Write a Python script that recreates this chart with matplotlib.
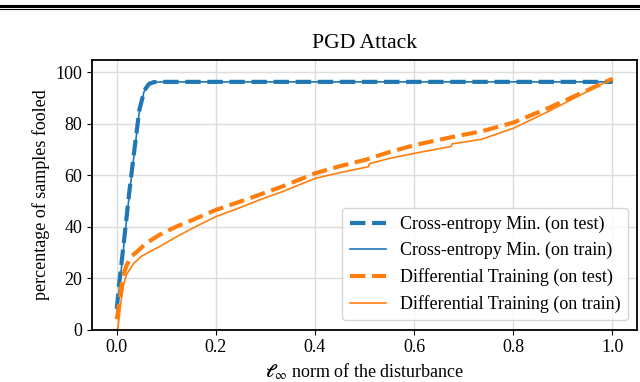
#Plots percentage of samples fooled vs l_inf norm of the PGD disturbance

import numpy as np
import matplotlib
matplotlib.use('Agg')
import matplotlib.pyplot as plt
from matplotlib.lines import Line2D

plt.rcParams['font.family'] = ['Liberation Serif', 'DejaVu Serif']
plt.rcParams['mathtext.fontset'] = 'stix'
plt.rcParams['font.size'] = 13

#Curves

ce_test_x = [0, 0.005, 0.0155, 0.0256, 0.0356, 0.0457, 0.0557, 0.065, 0.075, 0.09, 1.0]
ce_test_y = [8, 18, 36, 54, 70, 85.5, 93, 95.5, 96.2, 96.3, 96.3]

ce_train_x = [0, 0.005, 0.015, 0.025, 0.035, 0.045, 0.055, 0.065, 0.075, 0.09, 1.0]
ce_train_y = [6, 16, 34, 52, 68, 84, 92.5, 95.3, 96.1, 96.3, 96.3]

dt_test_x = [0, 0.002, 0.006, 0.012, 0.02, 0.029, 0.045, 0.059, 0.086, 0.12, 0.153,
             0.2, 0.25, 0.288, 0.334, 0.401, 0.45, 0.502, 0.55, 0.603, 0.683, 0.737,
             0.801, 0.871, 0.938, 1.0]
dt_test_y = [4, 6.2, 12, 20.5, 25, 28.3, 31, 33.5, 36.8, 40, 42.6,
             46.5, 49.8, 52.4, 55.6, 60.8, 63.5, 66, 69, 71.8, 75.1, 77.1,
             80.5, 86.1, 92, 97.5]

dt_train_x = [0, 0.002, 0.005, 0.009, 0.0145, 0.02, 0.034, 0.05, 0.066, 0.086, 0.12,
              0.153, 0.2, 0.25, 0.288, 0.334, 0.401, 0.45, 0.508, 0.51, 0.55, 0.603,
              0.675, 0.677, 0.737, 0.801, 0.871, 0.938, 1.0]
dt_train_y = [0, 0, 5, 11.4, 18, 21.5, 25.7, 28.5, 30.2, 32.2, 36,
              39.4, 43.9, 47.5, 50.4, 53.6, 58.8, 61, 63.3, 64.5, 66.5, 68.6,
              71.2, 72.2, 74, 78.3, 84.8, 91.4, 97.5]

fig = plt.figure(figsize=(6.4, 3.82), dpi=100)
ax = fig.add_axes([92/640, 1 - 329.5/382, 545/640, 270/382])

ax.plot(ce_test_x, ce_test_y, '--', color='tab:blue', lw=3, label='Cross-entropy Min. (on test)')
ax.plot(ce_train_x, ce_train_y, '-', color='tab:blue', lw=1.2, label='Cross-entropy Min. (on train)')
ax.plot(dt_test_x, dt_test_y, '--', color='tab:orange', lw=3, label='Differential Training (on test)')
ax.plot(dt_train_x, dt_train_y, '-', color='tab:orange', lw=1.2, label='Differential Training (on train)')

ax.set_xlim(-0.05, 1.05)
ax.set_ylim(0, 105)
ax.set_xticks(np.arange(0, 1.01, 0.2))
ax.set_yticks(np.arange(0, 101, 20))
ax.grid(True, color='#dcdcdc', lw=1)
ax.set_axisbelow(True)
for s in ax.spines.values():
    s.set_linewidth(1.3)

ax.set_title('PGD Attack', pad=8)
ax.set_xlabel(r'$\boldsymbol{\ell}_\infty$ norm of the disturbance')
ax.set_ylabel('percentage of samples fooled')
ax.legend(loc='lower right')

#table rule at the top of the page crop
fig.add_artist(Line2D([0, 1], [1 - 5.5/382, 1 - 5.5/382], color='black', lw=2.2))
fig.add_artist(Line2D([0, 1], [1 - 8.7/382, 1 - 8.7/382], color='black', lw=0.8))

plt.savefig('out.png', dpi=100)
